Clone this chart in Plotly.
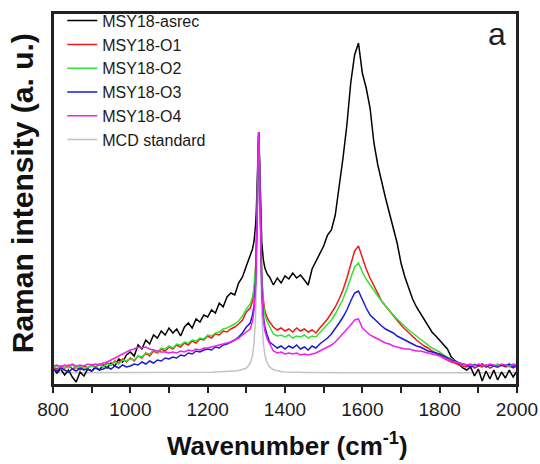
import plotly.graph_objects as go

wavenumber = [
    800, 810, 820, 830, 840, 850, 860, 870, 880, 890,
    900, 910, 920, 930, 940, 950, 960, 970, 980, 990,
    1000, 1010, 1020, 1030, 1040, 1050, 1060, 1070, 1080, 1090,
    1100, 1110, 1120, 1130, 1140, 1150, 1160, 1170, 1180, 1190,
    1200, 1210, 1220, 1230, 1240, 1250, 1260, 1270, 1280, 1290,
    1300, 1310, 1316, 1320, 1324, 1326, 1328, 1330, 1332, 1334, 1336, 1338, 1340, 1344, 1348, 1354, 1360,
    1370, 1380, 1390, 1400, 1410, 1420, 1430, 1440, 1450, 1460,
    1470, 1480, 1490, 1500, 1510, 1520, 1530, 1540, 1550, 1560,
    1570, 1580, 1590, 1600, 1610, 1620, 1630, 1640, 1650, 1660,
    1670, 1680, 1690, 1700, 1710, 1720, 1730, 1740, 1750, 1760,
    1770, 1780, 1790, 1800, 1810, 1820, 1830, 1840, 1850, 1860,
    1870, 1880, 1890, 1900, 1910, 1920, 1930, 1940, 1950, 1960,
    1970, 1980, 1990, 2000,
]

asrec = [
    5, 0, 4, -2, 3, -4, -9, 1, -3, 4,
    2, 6, 3, 8, 5, 10, 7, 14, 11, 18,
    21, 17, 28, 24, 33, 29, 38, 35, 42, 38,
    45, 40, 44, 37, 46, 50, 45, 54, 51, 58,
    56, 63, 60, 70, 66, 76, 80, 78, 90, 96,
    107, 118, 124, 132, 148, 164, 188, 221, 241, 217, 177, 148, 130, 113, 105, 99, 96,
    88, 95, 90, 97, 94, 100, 95, 98, 93, 88,
    104, 112, 120, 127, 138, 143, 158, 185, 215, 248,
    290, 318, 330, 300, 285, 265, 230, 208, 190, 175,
    160, 145, 130, 110, 96, 85, 74, 66, 60, 54,
    47, 41, 37, 33, 29, 24, 16, 12, 8, 5,
    3, 6, -3, 4, -8, 2, -6, 3, -7, 1,
    -5, 3, -4, 2,
]

o1 = [
    6, 4, 7, 5, 8, 4, 6, 3, 7, 5,
    8, 6, 9, 7, 10, 8, 12, 10, 14, 11,
    15, 12, 17, 15, 20, 17, 22, 20, 24, 22,
    26, 24, 28, 26, 30, 28, 32, 30, 34, 33,
    37, 35, 39, 38, 42, 41, 44, 46, 49, 53,
    61, 65, 72, 82, 104, 126, 161, 211, 241, 210, 157, 119, 95, 73, 62, 55, 51,
    46, 43, 45, 42, 44, 41, 45, 42, 44, 41,
    43, 40, 45, 49, 54, 60, 66, 74, 83, 95,
    108, 122, 127, 115, 104, 95, 87, 80, 72, 67,
    62, 57, 53, 48, 44, 40, 36, 33, 30, 27,
    25, 22, 20, 18, 15, 13, 11, 10, 8, 7,
    6, 8, 5, 7, 6, 8, 5, 7, 6, 8,
    6, 7, 5, 7,
]

o2 = [
    5, 7, 4, 6, 5, 8, 5, 7, 4, 6,
    7, 5, 8, 6, 9, 8, 11, 9, 13, 12,
    14, 13, 17, 16, 20, 19, 23, 21, 25, 24,
    27, 25, 29, 28, 31, 30, 33, 32, 35, 34,
    38, 37, 40, 41, 44, 45, 47, 49, 52, 57,
    64, 69, 76, 86, 107, 129, 164, 212, 241, 209, 156, 117, 92, 69, 58, 51, 47,
    39, 37, 38, 36, 38, 35, 37, 36, 38, 35,
    37, 36, 40, 44, 48, 53, 59, 66, 74, 84,
    96, 106, 110, 101, 94, 88, 82, 77, 72, 67,
    62, 58, 54, 50, 46, 43, 40, 37, 34, 31,
    28, 25, 23, 21, 18, 16, 14, 12, 10, 9,
    8, 7, 9, 7, 8, 6, 8, 7, 9, 7,
    8, 6, 8, 7,
]

o3 = [
    4, 2, 5, 3, 1, 4, 2, 5, 3, 4,
    2, 5, 3, 4, 6, 4, 7, 5, 8, 6,
    7, 9, 8, 11, 9, 12, 10, 13, 12, 15,
    14, 16, 15, 18, 17, 20, 19, 22, 21, 23,
    24, 23, 26, 25, 28, 29, 31, 33, 36, 40,
    46, 50, 58, 68, 91, 115, 155, 209, 241, 207, 149, 107, 82, 57, 46, 38, 31,
    28, 25, 27, 24, 27, 25, 28, 24, 26, 23,
    27, 25, 29, 32, 35, 39, 44, 50, 56, 63,
    72, 80, 82, 73, 65, 58, 54, 50, 47, 44,
    42, 40, 37, 35, 33, 31, 29, 27, 26, 24,
    22, 21, 20, 19, 17, 15, 13, 12, 10, 9,
    8, 6, 8, 7, 9, 6, 8, 7, 6, 8,
    7, 9, 6, 8,
]

o4 = [
    7, 8, 6, 8, 7, 9, 7, 8, 7, 9,
    8, 9, 8, 10, 11, 13, 15, 17, 19, 21,
    23, 24, 26, 25, 26, 24, 23, 22, 21, 21,
    20, 21, 20, 22, 21, 23, 22, 24, 23, 25,
    25, 26, 27, 28, 29, 30, 31, 33, 35, 38,
    41, 44, 52, 62, 87, 112, 153, 209, 241, 206, 147, 104, 79, 53, 42, 34, 29,
    22, 20, 21, 19, 20, 19, 20, 18, 19, 18,
    19, 20, 22, 24, 26, 28, 31, 35, 39, 43,
    48, 53, 54, 45, 41, 38, 36, 34, 32, 30,
    29, 27, 26, 25, 24, 24, 23, 22, 22, 21,
    20, 19, 18, 17, 15, 14, 12, 11, 10, 9,
    8, 9, 7, 9, 8, 7, 9, 8, 7, 9,
    8, 7, 9, 8,
]

mcd = [
    0.2, 0.2, 0.2, 0.2, 0.2, 0.2, 0.2, 0.2, 0.2, 0.2,
    0.2, 0.2, 0.2, 0.2, 0.2, 0.2, 0.2, 0.2, 0.2, 0.2,
    0.3, 0.3, 0.3, 0.3, 0.3, 0.3, 0.3, 0.3, 0.3, 0.3,
    0.4, 0.4, 0.4, 0.4, 0.5, 0.5, 0.5, 0.6, 0.6, 0.7,
    0.7, 0.8, 1.0, 1.1, 1.3, 1.5, 1.8, 2.1, 2.6, 3.4,
    4.7, 9.7, 17.7, 29.7, 58, 86.8, 134.6, 201, 241, 201, 134.6, 86.8, 58, 29.7, 17.7, 9.7, 6.1,
    3.3, 2.1, 1.4, 1.0, 0.8, 0.6, 0.5, 0.5, 0.4, 0.4,
    0.4, 0.3, 0.3, 0.3, 0.3, 0.3, 0.3, 0.3, 0.3, 0.3,
    0.2, 0.2, 0.2, 0.2, 0.2, 0.2, 0.2, 0.2, 0.2, 0.2,
    0.2, 0.2, 0.2, 0.2, 0.2, 0.2, 0.2, 0.2, 0.2, 0.2,
    0.2, 0.2, 0.2, 0.2, 0.2, 0.2, 0.2, 0.2, 0.2, 0.2,
    0.2, 0.2, 0.2, 0.2, 0.2, 0.2, 0.2, 0.2, 0.2, 0.2,
    0.2, 0.2, 0.2, 0.2,
]

series_names = ["MSY18-asrec", "MSY18-O1", "MSY18-O2", "MSY18-O3", "MSY18-O4", "MCD standard"]
series_values = [asrec, o1, o2, o3, o4, mcd]
series_colors = ["#000000", "#f01818", "#36e236", "#1a1ad6", "#f020f0", "#c4c4c4"]

font_family = "Arial, Liberation Sans, sans-serif"

fig = go.Figure()
# draw MCD standard first (behind), others on top
draw_order = [5, 0, 1, 2, 3, 4]
for i in draw_order:
    fig.add_trace(go.Scatter(
        x=wavenumber, y=series_values[i], mode="lines", name=series_names[i],
        line=dict(color=series_colors[i], width=1.5),
        legendrank=i + 1,
    ))

fig.update_layout(
    width=540, height=464,
    margin=dict(l=53, r=23, t=13, b=79, autoexpand=False),
    paper_bgcolor="white", plot_bgcolor="white",
    font=dict(family=font_family, color="#1a1a1a"),
    showlegend=True,
    legend=dict(
        x=0.02, y=0.992, xref="paper", yref="container",
        xanchor="left", yanchor="top",
        bgcolor="rgba(0,0,0,0)", borderwidth=0,
        font=dict(size=16, family=font_family, color="#1a1a1a"),
        tracegroupgap=0,
    ),
    xaxis=dict(
        range=[800, 2000], tick0=800, dtick=200,
        showgrid=False, zeroline=False,
        showline=True, mirror=True, linecolor="#222222", linewidth=2,
        ticks="outside", ticklen=6, tickwidth=1.5, tickcolor="#222222",
        minor=dict(dtick=100, ticks="outside", ticklen=6, tickwidth=1.5, tickcolor="#222222"),
        tickfont=dict(size=19, family=font_family, color="#1a1a1a"),
    ),
    yaxis=dict(
        range=[-12, 360],
        showgrid=False, zeroline=False, showticklabels=False, ticks="",
        showline=True, mirror=True, linecolor="#222222", linewidth=2,
    ),
    shapes=[
        dict(type="rect", xref="paper", yref="paper", x0=0, x1=1, y0=0, y1=1,
             line=dict(color="#222222", width=2), fillcolor="rgba(0,0,0,0)", layer="above"),
    ],
    annotations=[
        dict(text="<b>Wavenumber (cm<sup>-1</sup>)</b>", xref="paper", yref="paper",
             x=0.506, y=-0.159, xanchor="center", yanchor="middle", showarrow=False,
             font=dict(size=26, family=font_family, color="#111111")),
        dict(text="<b>Raman intensity (a. u.)</b>", xref="paper", yref="paper",
             x=-0.065, y=0.515, xanchor="center", yanchor="middle", showarrow=False,
             textangle=-90, font=dict(size=30, family=font_family, color="#111111")),
        dict(text="a", xref="paper", yref="paper",
             x=0.957, y=0.944, xanchor="center", yanchor="middle", showarrow=False,
             font=dict(size=32, family=font_family, color="#222222")),
    ],
)

fig.write_html("out.html")
